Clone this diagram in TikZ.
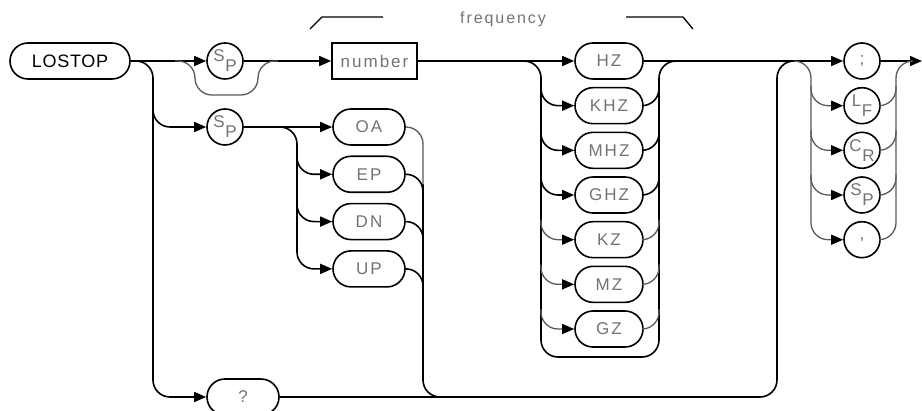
\documentclass[tikz,border=0pt]{standalone}
\usepackage{fontspec}
\setmainfont{Liberation Sans}
\newfontfamily\spfont[LetterSpace=12]{Liberation Sans}
\newfontfamily\cmdfont[LetterSpace=4]{Liberation Sans}
\usetikzlibrary{arrows.meta,shapes.misc,calc}
\tikzstyle{kw}=[rounded rectangle,draw=black,line width=1.6pt,minimum height=36pt,minimum width=68pt,inner sep=0pt,text=black!55,font=\fontsize{17}{17}\selectfont\spfont]
\tikzstyle{ch}=[circle,draw=black,line width=1.6pt,minimum size=36pt,inner sep=0pt,text=black!55,font=\fontsize{17}{17}\selectfont]
\tikzstyle{syn}=[line width=1.6pt,rounded corners=17pt,>={Triangle[length=12pt,width=10pt,color=black]}]
\tikzstyle{opt}=[syn,line width=1.3pt,draw=black!65]
\newcommand{\duo}[2]{\raisebox{5pt}{#1}\hspace{0.5pt}\raisebox{-5pt}{#2}}

\begin{document}
\begin{tikzpicture}[x=1pt,y=-1pt]
\useasboundingbox (0,0) rectangle (922,411);
% command and first parameter
\node[kw,text=black,minimum width=120pt,font=\fontsize{18}{18}\selectfont\cmdfont] (lostop) at (70,61) {LOSTOP};
\node[ch] (sp1) at (225,61) {\duo SP};
\node[draw,line width=1.6pt,minimum width=85pt,minimum height=36pt,inner sep=0pt,text=black!55,font=\fontsize{17}{17}\selectfont\spfont] (num) at (374.5,61) {number};
\node[ch] (sp2) at (225,127) {\duo SP};
\foreach \t [count=\i from 0] in {OA,EP,DN,UP}
  \node[kw,minimum width=72pt] (\t) at (369,127+47.3*\i) {\t};
\node[kw,minimum width=72pt] (q) at (243,397) {?};
% units
\foreach \t [count=\i from 0] in {HZ,KHZ,MHZ,GHZ,KZ,MZ,GZ}
  \node[kw] (\t) at (609,61+44.67*\i) {\t};
% terminators
\node[ch] (semi) at (862,61) {;};
\node[ch] (lf) at (862,105.7) {\duo LF};
\node[ch] (cr) at (862,150.3) {\duo CR};
\node[ch] (sp3) at (862,195) {\duo SP};
\node[ch] (comma) at (862,239.7) {,};
% label
\node[font=\fontsize{16}{16}\selectfont\spfont,text=black!55] (freq) at (503,19) {frequency};
\draw[line width=1.3pt] (310,29) -- (322,17) -- (383,17);
\draw[line width=1.3pt] (626,17) -- (683,17) -- (693,29);
% rails
\coordinate (ra) at (153,61);
\coordinate (rb) at (297,127);
\coordinate (rc) at (423,127);
\coordinate (rd) at (541,61);
\coordinate (re) at (659,61);
\coordinate (rf) at (777,397);
\coordinate (rg) at (811,61);
\coordinate (rh) at (896,61);
\coordinate (end) at (922,61);
% main line
\draw[syn,->] (lostop) -- (sp1);
\draw[syn,->] (sp1) -- (num);
\draw[syn,->] (num) -- (HZ);
\draw[syn,->] (HZ) -- (semi);
\draw[syn,->] (semi) -- (end);
\draw[opt] ([xshift=-50pt]sp1.center) -- ++(20,0) -- ++(0,34) -- ++(63,0) -- ++(0,-34) -- ++(20,0);
% second parameter
\draw[syn,->] (lostop) -- (ra) -- (ra |- q) -- (q);
\draw[syn,->] ($(ra|-sp2)+(0,-20)$) |- (sp2);
\draw[syn,->] (sp2) -- (OA);
\draw[syn,->] ($(rb)+(-17,0)$) -- (rb) -- (rb |- UP) -- (UP);
\foreach \t in {EP,DN}
  \draw[syn,->] ($(rb|-\t)+(0,-20)$) |- (\t);
\draw[opt] (OA) -- (rc) -- ($(rc|-EP)+(0,20)$);
\draw[syn] ($(rc|-EP)+(0,10)$) -- (rc |- q) -- ++(20,0);
\foreach \t in {EP,DN,UP}
  \draw[syn] (\t) -| ($(rc|-\t)+(0,20)$);
\draw[syn] (q) -- (rf) -- (rf |- semi) -- ++(20,0);
% units
\draw[syn] ($(rd)+(-17,0)$) -- (rd) -- ($(rd|-GZ)+(0,28)$) -- ($(re|-GZ)+(0,28)$) -- (re) -- ++(17,0);
\foreach \t in {KHZ,MHZ,GHZ}{
  \draw[syn,->] ($(rd|-\t)+(0,-20)$) |- (\t);
  \draw[syn] (\t) -| ($(re|-\t)+(0,-20)$);}
\foreach \t in {KZ,MZ,GZ}{
  \draw[opt,->] ($(rd|-\t)+(0,-20)$) |- (\t);
  \draw[opt] (\t) -| ($(re|-\t)+(0,-20)$);}
% terminators
\draw[opt,->] ($(rg)+(-17,0)$) -- (rg) -- (rg |- comma) -- (comma);
\draw[opt] (comma) -| (rh) -- ++(17,0);
\foreach \t in {lf,cr,sp3}{
  \draw[opt,->] ($(rg|-\t)+(0,-20)$) |- (\t);
  \draw[opt] (\t) -| ($(rh|-\t)+(0,-20)$);}
\end{tikzpicture}
\end{document}
